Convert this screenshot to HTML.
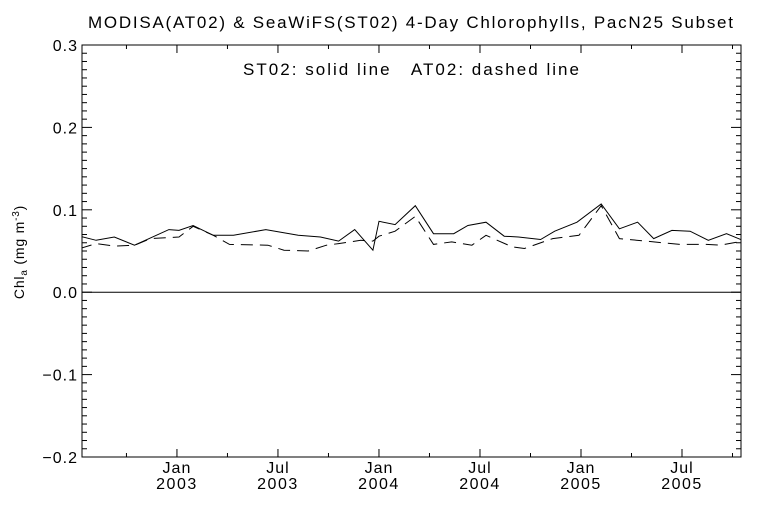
<!DOCTYPE html>
<html><head><meta charset="utf-8"><style>
body{margin:0;background:#fff;}
svg{display:block;font-family:"Liberation Sans",sans-serif;}
</style></head><body>
<svg id="chart" width="768" height="512" viewBox="0 0 768 512">
<rect width="768" height="512" fill="#fff"/>
<text x="88" y="28" font-size="17" textLength="645" lengthAdjust="spacing" fill="#000">MODISA(AT02) &amp; SeaWiFS(ST02) 4-Day Chlorophylls, PacN25 Subset</text>
<text x="243" y="75" font-size="17" textLength="336" lengthAdjust="spacing" fill="#000" xml:space="preserve">ST02: solid line   AT02: dashed line</text>
<text transform="translate(24,252) rotate(-90)" text-anchor="middle" font-size="14" letter-spacing="0.8" fill="#000">Chl<tspan font-size="10" dy="3">a</tspan><tspan dy="-3"> (mg m</tspan><tspan font-size="10" dy="-5">-3</tspan><tspan dy="5">)</tspan></text>
<g id="axes"></g>
<g id="series"></g>
</svg>
<script>
const solidDates=[2002.52,2002.60,2002.69,2002.79,2002.96,2003.01,2003.08,2003.18,2003.28,2003.44,2003.60,2003.71,2003.80,2003.88,2003.97,2004.00,2004.08,2004.18,2004.27,2004.37,2004.44,2004.53,2004.62,2004.69,2004.80,2004.87,2004.98,2005.10,2005.19,2005.28,2005.36,2005.45,2005.54,2005.63,2005.72,2005.80];
const solidValues=[0.068,0.063,0.067,0.057,0.076,0.075,0.081,0.069,0.069,0.076,0.069,0.067,0.062,0.076,0.051,0.086,0.082,0.105,0.071,0.071,0.081,0.085,0.068,0.067,0.064,0.074,0.085,0.107,0.077,0.085,0.065,0.075,0.074,0.063,0.071,0.063];
const dashedDates=[2002.52,2002.60,2002.69,2002.79,2002.87,2003.01,2003.08,2003.18,2003.26,2003.45,2003.53,2003.65,2003.74,2003.80,2003.91,2003.97,2004.00,2004.08,2004.18,2004.27,2004.36,2004.46,2004.53,2004.66,2004.72,2004.86,2004.99,2005.10,2005.19,2005.32,2005.36,2005.49,2005.62,2005.69,2005.80];
const dashedValues=[0.053,0.059,0.056,0.057,0.065,0.067,0.080,0.069,0.058,0.057,0.051,0.050,0.057,0.059,0.063,0.062,0.068,0.074,0.092,0.058,0.061,0.057,0.069,0.055,0.053,0.065,0.069,0.105,0.065,0.062,0.061,0.058,0.058,0.057,0.062];
const yTicks=[-0.2,-0.1,0.0,0.1,0.2,0.3];
const yTickLabels=["\u22120.2","\u22120.1","0.0","0.1","0.2","0.3"];
const xTicks=[2003,2003.5,2004,2004.5,2005,2005.5];
const xTickMonths=["Jan","Jul","Jan","Jul","Jan","Jul"];
const xTickYears=["2003","2003","2004","2004","2005","2005"];

const L=82,R=741,T=45,B=457;
const X0=2002.53,X1=2005.792,Y0=-0.2,Y1=0.3;
const xs=v=>L+(v-X0)/(X1-X0)*(R-L);
const ys=v=>B-(v-Y0)/(Y1-Y0)*(B-T);
const NS="http://www.w3.org/2000/svg";
const axes=document.getElementById('axes');
const series=document.getElementById('series');
function mk(tag,attrs,parent){const e=document.createElementNS(NS,tag);for(const k in attrs)e.setAttribute(k,attrs[k]);parent.appendChild(e);return e;}

const frame=mk('rect',{x:L,y:T,width:R-L,height:B-T,fill:'none',stroke:'#000','stroke-width':1},axes);


const zl=mk('line',{x1:L,x2:R,y1:ys(0),y2:ys(0),stroke:'#000','stroke-width':1},axes);



for(let i=0;i<=50;i++){
  const v=Y0+i*0.01; const y=ys(v); const major=(i%10===0);
  const len=major?10:5;
  const t1=mk('line',{x1:L,x2:L+len,y1:y,y2:y,stroke:'#000'},axes);
  
  
  const t2=mk('line',{x1:R,x2:R-len,y1:y,y2:y,stroke:'#000'},axes);
  
  
}
yTicks.forEach((v,i)=>{
  const t=mk('text',{x:L-4,y:ys(v)+6,'text-anchor':'end','font-size':16,'letter-spacing':1,fill:'#000'},axes);
  t.textContent=yTickLabels[i];
  
  
});
for(let q=2002.75;q<=X1;q+=0.25){
  const x=xs(q); const major=Math.abs(q*2-Math.round(q*2))<1e-6; const len=major?8:4;
  const a=mk('line',{x1:x,x2:x,y1:B,y2:B-len,stroke:'#000'},axes);
  
  
  const b=mk('line',{x1:x,x2:x,y1:T,y2:T+len,stroke:'#000'},axes);
  
  
}
xTicks.forEach((v,i)=>{
  const m=mk('text',{x:xs(v),y:B+16,'text-anchor':'middle','font-size':16,'letter-spacing':1,fill:'#000'},axes);
  m.textContent=xTickMonths[i];
  
  
  const yv=mk('text',{x:xs(v),y:B+32,'text-anchor':'middle','font-size':16,'letter-spacing':1.5,fill:'#000'},axes);
  yv.textContent=xTickYears[i];
  
  
});
const defs=mk('defs',{},series);
const cp=mk('clipPath',{id:'clip'},defs);
mk('rect',{x:L,y:T,width:R-L,height:B-T},cp);
function pts(d,v){return d.map((t,i)=>xs(t).toFixed(1)+','+ys(v[i]).toFixed(1)).join(' ');}
const s=mk('polyline',{points:pts(solidDates,solidValues),fill:'none',stroke:'#000','stroke-width':1,'clip-path':'url(#clip)'},series);


const d=mk('polyline',{points:pts(dashedDates,dashedValues),fill:'none',stroke:'#000','stroke-width':1,'stroke-dasharray':'12,7','clip-path':'url(#clip)'},series);


</script>
</body></html>
